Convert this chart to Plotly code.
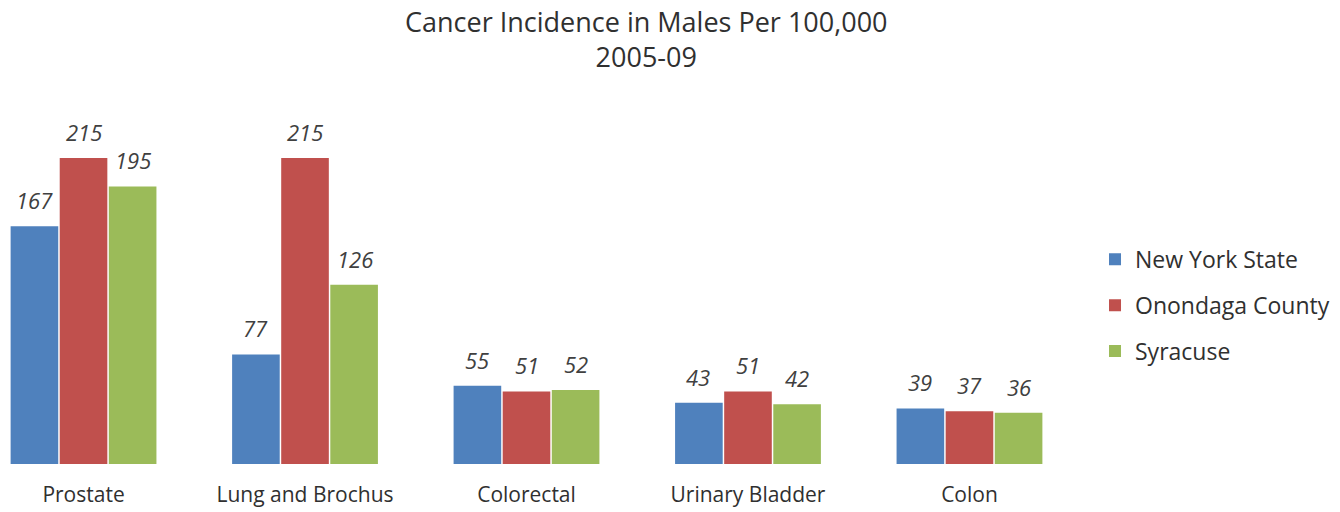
import plotly.graph_objects as go

categories = ["Prostate", "Lung and Brochus", "Colorectal", "Urinary Bladder", "Colon"]
series_names = ["New York State", "Onondaga County", "Syracuse"]
nys = [167, 77, 55, 43, 39]
onondaga = [215, 215, 51, 51, 37]
syracuse = [195, 126, 52, 42, 36]
colors = ["#4F81BD", "#C0504D", "#9BBB59"]

FONT = "Open Sans"
fig = go.Figure()
all_vals = [nys, onondaga, syracuse]
for i, (name, vals, col) in enumerate(zip(series_names, all_vals, colors)):
    fig.add_trace(go.Bar(
        x=categories, y=vals, name=name, marker=dict(color=col, line=dict(width=0)),
        legendgroup=name,
    ))

# data labels
offsets = [-49.5, 0, 49.5]
for i, vals in enumerate(all_vals):
    for c, v in zip(categories, vals):
        fig.add_annotation(
            x=c, y=v, xref="x", yref="y", text=str(v), showarrow=False,
            xshift=offsets[i], yshift=9, yanchor="bottom",
            font=dict(family=FONT, size=22, color="#404040", style="italic"),
        )

# title (two lines)
fig.add_annotation(text="Cancer Incidence in Males Per 100,000<br>2005-09", xref="paper", yref="paper",
                   x=638 / 1072, y=(456 - 31.5) / 364, showarrow=False, xanchor="center", yanchor="middle",
                   font=dict(family=FONT, size=27, color="#303030"))

fig.update_layout(
    width=1332, height=504,
    paper_bgcolor="white", plot_bgcolor="white",
    margin=dict(l=0, r=260, t=92, b=48),
    barmode="group", bargap=0.335, bargroupgap=0.03,
    font=dict(family=FONT, color="#262626"),
    xaxis=dict(range=[-0.341, 4.499], showline=False, showgrid=False, ticks="",
               ticklabelstandoff=16,
               tickfont=dict(family=FONT, size=21, color="#303030")),
    yaxis=dict(range=[0, 255.7], visible=False),
    legend=dict(x=1.014, y=0.436, xanchor="left", yanchor="middle",
                traceorder="grouped", tracegroupgap=13,
                font=dict(family=FONT, size=23, color="#303030"),
                itemwidth=30),
    showlegend=True,
)

fig.write_html("out.html")
